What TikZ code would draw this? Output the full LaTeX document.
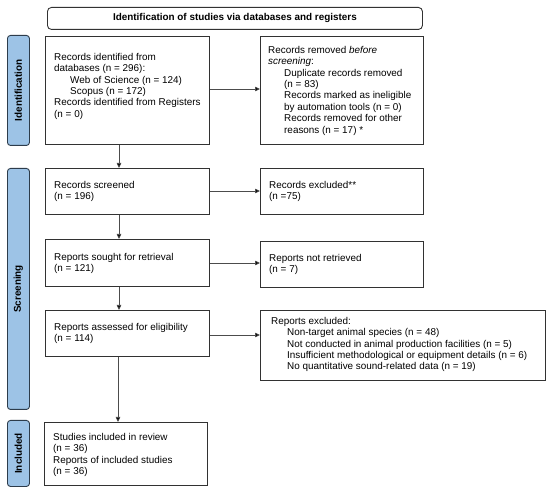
\documentclass[tikz,border=0pt]{standalone}
\usepackage{fontspec}
\setmainfont{Liberation Sans}
\usetikzlibrary{arrows.meta}
\definecolor{barfill}{RGB}{157,195,230}
\definecolor{barline}{RGB}{45,60,75}
\definecolor{boxline}{RGB}{50,50,50}
\tikzset{
  box/.style={draw=boxline, line width=0.9pt, rectangle, inner sep=0pt, anchor=north west},
  txt/.style={inner sep=0pt, anchor=north west, align=left, font=\fontsize{9.9}{11.4}\selectfont},
  bar/.style={draw=barline, fill=barfill, line width=0.9pt, rounded corners=3pt, inner sep=0pt, anchor=north west},
  barlabel/.style={rotate=90, font=\bfseries\fontsize{9.9}{11}\selectfont},
  conn/.style={draw=black!70, line width=0.7pt, -{Triangle[length=5pt,width=4.5pt,fill=black]}}
}
\newcommand{\ind}{\hspace*{16pt}}
\begin{document}
\begin{tikzpicture}[x=1pt,y=-1pt]
\useasboundingbox (0,0) rectangle (550,492);
\fill[white] (0,0) rectangle (550,492);

% header
\node[draw=boxline, line width=0.9pt, rounded corners=4pt, minimum width=375pt, minimum height=22pt, anchor=north west, inner sep=0pt] (head) at (47,7) {};
\node[font=\bfseries\fontsize{9.9}{11}\selectfont] (headtxt) at (head.center) {Identification of studies via databases and registers};

% side bars
\node[bar, minimum width=22pt, minimum height=110pt] (b1) at (7,35) {};
\node[barlabel] (b1t) at (b1.center) {Identification};
\node[bar, minimum width=22pt, minimum height=241pt] (b2) at (7,168) {};
\node[barlabel] (b2t) at (b2.center) {Screening};
\node[bar, minimum width=22pt, minimum height=66pt] (b3) at (7,420) {};
\node[barlabel] (b3t) at (b3.center) {Included};

% boxes
\node[box, minimum width=164pt, minimum height=108pt] (ident) at (45,36) {};
\node[txt] (identt) at (54,53) {Records identified from\\databases (n = 296):\\\ind Web of Science (n = 124)\\\ind Scopus (n = 172)\\Records identified from Registers\\(n = 0)};

\node[box, minimum width=163pt, minimum height=108pt] (removed) at (260,36) {};
\node[txt] (removedt) at (268,46) {Records removed \emph{before}\\\emph{screening}:\\\ind Duplicate records removed\\\ind (n = 83)\\\ind Records marked as ineligible\\\ind by automation tools (n = 0)\\\ind Records removed for other\\\ind reasons (n = 17) *};

\node[box, minimum width=164pt, minimum height=46pt] (screened) at (45,168) {};
\node[txt] (screenedt) at (54,181) {Records screened\\(n = 196)};

\node[box, minimum width=163pt, minimum height=46pt] (excl) at (260,168) {};
\node[txt] (exclt) at (269,181) {Records excluded**\\(n =75)};

\node[box, minimum width=164pt, minimum height=47pt] (sought) at (45,239) {};
\node[txt] (soughtt) at (54,253) {Reports sought for retrieval\\(n = 121)};

\node[box, minimum width=163pt, minimum height=46pt] (notret) at (260,241) {};
\node[txt] (notrett) at (269,254) {Reports not retrieved\\(n = 7)};

\node[box, minimum width=164pt, minimum height=46pt] (assessed) at (45,310) {};
\node[txt] (assessedt) at (54,323) {Reports assessed for eligibility\\(n = 114)};

\node[box, minimum width=285pt, minimum height=70pt] (repexcl) at (260,310) {};
\node[txt] (repexclt) at (271,317) {Reports excluded:\\\ind Non-target animal species (n = 48)\\\ind Not conducted in animal production facilities (n = 5)\\\ind Insufficient methodological or equipment details (n = 6)\\\ind No quantitative sound-related data (n = 19)};

\node[box, minimum width=163pt, minimum height=63pt] (incl) at (44,422) {};
\node[txt] (inclt) at (53,433) {Studies included in review\\(n = 36)\\Reports of included studies\\(n = 36)};

% connectors
\draw[conn] (ident.east |- 0,89) -- (removed.west |- 0,89);
\draw[conn] (screened.east |- 0,191) -- (excl.west |- 0,191);
\draw[conn] (sought.east |- 0,263) -- (notret.west |- 0,263);
\draw[conn] (assessed.east |- 0,335) -- (repexcl.west |- 0,335);
\draw[conn] (ident.south -| 119,0) -- (screened.north -| 119,0);
\draw[conn] (screened.south -| 119,0) -- (sought.north -| 119,0);
\draw[conn] (sought.south -| 119,0) -- (assessed.north -| 119,0);
\draw[conn] (assessed.south -| 118,0) -- (incl.north -| 118,0);
\end{tikzpicture}
\end{document}
